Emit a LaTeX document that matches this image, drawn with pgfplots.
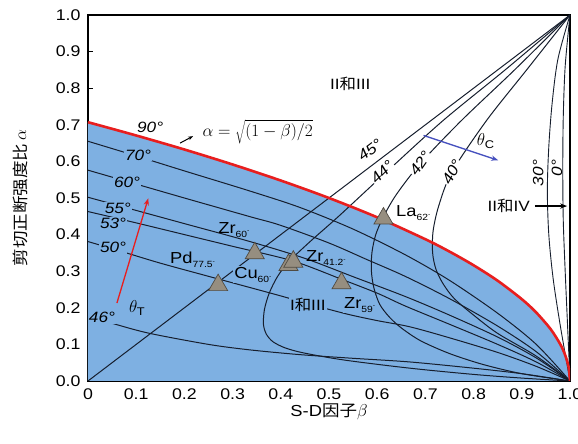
\documentclass[border=0pt]{standalone}
\usepackage{fontspec}
\setmainfont[FakeStretch=1.15]{Liberation Sans}
\newfontfamily\cjk[FakeStretch=1.1]{Noto Sans CJK SC}
\usepackage{pgfplots}
\pgfplotsset{compat=1.18}
\usetikzlibrary{arrows.meta}
\definecolor{bfill}{RGB}{126,176,226}
\definecolor{lc}{RGB}{22,30,45}
\definecolor{rl}{RGB}{232,30,30}
\definecolor{tri}{RGB}{150,142,128}
\definecolor{trid}{RGB}{80,75,66}
\definecolor{barrow}{RGB}{70,80,190}
\newcommand{\mat}[2]{#1\raisebox{-0.45ex}{\fontsize{9}{9}\selectfont #2\raisebox{0.9ex}{\fontsize{6}{6}\selectfont -}}}
\newcommand{\ang}{\fontsize{15}{15}\selectfont\itshape}
\begin{document}
\begin{tikzpicture}
\begin{axis}[name=ax, scale only axis, width=482bp, height=366bp,
  xmin=0, xmax=1, ymin=0, ymax=1,
  xtick={0,0.1,0.2,0.3,0.4,0.5,0.6,0.7,0.8,0.9,1},
  xticklabels={0,0.1,0.2,0.3,0.4,0.5,0.6,0.7,0.8,0.9,1.0},
  ytick={0,0.1,0.2,0.3,0.4,0.5,0.6,0.7,0.8,0.9,1},
  yticklabels={0.0,0.1,0.2,0.3,0.4,0.5,0.6,0.7,0.8,0.9,1.0},
  tick align=inside, xtick pos=bottom, ytick pos=left,
  major tick length=5bp,
  tick style={black, line width=1bp},
  axis line style={line width=1.2bp},
  tick label style={font=\fontsize{15.5}{15.5}\selectfont},
  xticklabel style={yshift=-4bp},
  yticklabel style={xshift=-4bp},
  xlabel={S-D{\cjk 因子}$\beta$},
  ylabel={{\cjk 剪切正断强度比}$\,\alpha$},
  label style={font=\fontsize{16}{16}\selectfont},
  xlabel style={at={(axis description cs:0.5,0)}, yshift=-31bp, anchor=center},
  ylabel style={at={(axis description cs:0,0.5)}, anchor=center, yshift=68bp},
  clip=true,
]
% blue region under the 90 deg curve
\addplot[fill=bfill, draw=none] coordinates {(0,0.7071)(0.1,0.6708)(0.2,0.6325)(0.3,0.5916)(0.4,0.5477)(0.5,0.5)(0.6,0.4472)(0.7,0.3873)(0.75,0.3536)(0.8,0.3162)(0.85,0.2739)(0.9,0.2236)(0.93,0.1871)(0.96,0.1414)(0.98,0.1)(0.99,0.0707)(0.997,0.0387)(1,0)} \closedcycle;
% theta_T curves
\addplot[lc, line width=1bp, smooth] coordinates {(0,0.655)(0.1,0.615)(0.2,0.574)(0.336,0.519)(0.44,0.474)(0.55,0.415)(0.658,0.345)(0.75,0.275)(0.85,0.185)(0.93,0.1)(1,0)};
\addplot[lc, line width=1bp, smooth] coordinates {(0,0.576)(0.1,0.538)(0.2,0.5)(0.336,0.449)(0.398,0.426)(0.5,0.377)(0.58,0.331)(0.658,0.286)(0.75,0.225)(0.85,0.15)(0.93,0.08)(1,0)};
\addplot[lc, line width=1bp, smooth] coordinates {(0,0.502)(0.1,0.466)(0.2,0.43)(0.336,0.381)(0.45,0.335)(0.55,0.285)(0.658,0.231)(0.75,0.18)(0.85,0.12)(0.93,0.063)(1,0)};
\addplot[lc, line width=1bp, smooth] coordinates {(0,0.463)(0.1,0.432)(0.2,0.4)(0.3,0.368)(0.425,0.328)(0.526,0.278)(0.6,0.24)(0.658,0.205)(0.75,0.155)(0.85,0.1)(0.93,0.052)(1,0)};
\addplot[lc, line width=1bp, smooth] coordinates {(0,0.381)(0.077,0.351)(0.15,0.322)(0.25,0.286)(0.393,0.235)(0.46,0.21)(0.537,0.183)(0.6,0.165)(0.668,0.148)(0.75,0.118)(0.85,0.078)(0.93,0.04)(1,0)};
\addplot[lc, line width=1bp, smooth] coordinates {(0,0.175)(0.046,0.159)(0.125,0.131)(0.25,0.1)(0.336,0.085)(0.44,0.072)(0.55,0.062)(0.668,0.052)(0.8,0.035)(0.9,0.02)(1,0)};
% theta_C curves
\addplot[lc, line width=1bp] coordinates {(0,0)(1,1)};
\addplot[lc, line width=1bp, smooth] coordinates {(1,1)(0.87,0.855)(0.737,0.712)(0.62,0.572)(0.52,0.45)(0.46,0.38)(0.416,0.325)(0.393,0.285)(0.376,0.24)(0.366,0.195)(0.364,0.155)(0.37,0.128)(0.384,0.107)(0.41,0.09)(0.45,0.076)(0.533,0.057)(0.668,0.035)(0.8,0.018)(0.9,0.008)(1,0)};
\addplot[lc, line width=1bp, smooth] coordinates {(1,1)(0.885,0.85)(0.775,0.712)(0.69,0.595)(0.64,0.51)(0.613,0.449)(0.597,0.4)(0.589,0.35)(0.588,0.3)(0.593,0.255)(0.605,0.21)(0.625,0.175)(0.65,0.145)(0.69,0.11)(0.75,0.075)(0.82,0.045)(0.9,0.02)(1,0)};
\addplot[lc, line width=1bp, smooth] coordinates {(1,1)(0.91,0.85)(0.827,0.712)(0.755,0.571)(0.728,0.48)(0.716,0.41)(0.715,0.35)(0.722,0.305)(0.737,0.265)(0.76,0.225)(0.8,0.18)(0.85,0.13)(0.93,0.068)(1,0)};
\addplot[lc, line width=0.9bp, smooth] coordinates {(1,1)(0.975,0.88)(0.963,0.76)(0.956,0.64)(0.953,0.52)(0.956,0.4)(0.965,0.28)(0.98,0.15)(1,0)};
\addplot[lc, line width=0.9bp, smooth] coordinates {(1,1)(0.99,0.86)(0.986,0.72)(0.985,0.58)(0.986,0.44)(0.99,0.3)(0.995,0.15)(1,0)};
% 90 deg boundary
\addplot[rl, line width=2.6bp, smooth] coordinates {(0,0.7071)(0.1,0.6708)(0.2,0.6325)(0.3,0.5916)(0.4,0.5477)(0.5,0.5)(0.6,0.4472)(0.7,0.3873)(0.75,0.3536)(0.8,0.3162)(0.85,0.2739)(0.9,0.2236)(0.93,0.1871)(0.96,0.1414)(0.98,0.1)(0.99,0.0707)(0.997,0.0387)(1,0)};
% labels on theta_T curves
\node[font=\ang] at (axis cs:0.129,0.694) {90°};
\node[font=\ang, fill=bfill, inner sep=1bp] at (axis cs:0.104,0.617) {70°};
\node[font=\ang, fill=bfill, inner sep=1bp] at (axis cs:0.081,0.544) {60°};
\node[font=\ang, fill=bfill, inner sep=1bp] at (axis cs:0.062,0.473) {55°};
\node[font=\ang, fill=bfill, inner sep=0.5bp] at (axis cs:0.052,0.432) {53°};
\node[font=\ang, fill=bfill, inner sep=1bp] at (axis cs:0.052,0.364) {50°};
\node[font=\ang, fill=bfill, inner sep=1bp] at (axis cs:0.029,0.173) {46°};
% labels on theta_C curves
\node[font=\ang, fill=white, inner sep=0.5bp, rotate=37] at (axis cs:0.585,0.631) {45°};
\node[font=\ang, fill=white, inner sep=0.5bp, rotate=45] at (axis cs:0.61,0.571) {44°};
\node[font=\ang, fill=white, inner sep=0.5bp, rotate=55] at (axis cs:0.689,0.595) {42°};
\node[font=\ang, fill=white, inner sep=0.5bp, rotate=62] at (axis cs:0.755,0.571) {40°};
\node[font=\ang, rotate=90] at (axis cs:0.934,0.568) {30°};
\node[font=\ang, rotate=90] at (axis cs:0.973,0.582) {0°};
% formula
\draw[-{Stealth[length=5bp]}, line width=1bp] (axis cs:0.191,0.65) -- (axis cs:0.218,0.669);
\node[font=\fontsize{17}{17}\selectfont] at (axis cs:0.352,0.682) {$\alpha=\sqrt{(1-\beta)/2}$};
% arrows
\draw[-{Stealth[length=7bp]}, line width=1.3bp, barrow] (axis cs:0.696,0.671) -- (axis cs:0.851,0.603);
\node[font=\fontsize{16}{16}\selectfont] at (axis cs:0.824,0.655) {$\theta_{\mathrm{C}}$};
\draw[-{Stealth[length=7bp]}, line width=1.3bp, rl] (axis cs:0.06,0.213) -- (axis cs:0.125,0.499);
\node[font=\fontsize{16}{16}\selectfont] at (axis cs:0.101,0.2) {$\theta_{\mathrm{T}}$};
% region labels
\node[font=\fontsize{15}{15}\selectfont] at (axis cs:0.544,0.813) {II{\cjk 和}III};
\node[font=\fontsize{15}{15}\selectfont] at (axis cs:0.873,0.478) {II{\cjk 和}IV};
\draw[-{Stealth[length=7bp]}, line width=1.6bp] (axis cs:0.927,0.478) -- (axis cs:0.994,0.478);
\node[font=\fontsize{15}{15}\selectfont, fill=bfill, inner sep=1bp] at (axis cs:0.456,0.208) {I{\cjk 和}III};
% materials
\addplot[only marks, mark=triangle*, mark size=11bp, mark options={fill=tri, draw=trid, line width=0.7bp}] coordinates {(0.27,0.262)(0.346,0.349)(0.416,0.317)(0.426,0.326)(0.526,0.267)(0.613,0.444)};
\node[font=\fontsize{16}{16}\selectfont, anchor=west, inner sep=0pt] at (axis cs:0.17,0.331) {\mat{Pd}{77.5}};
\node[font=\fontsize{16}{16}\selectfont, anchor=west, inner sep=0pt] at (axis cs:0.27,0.413) {\mat{Zr}{60}};
\node[font=\fontsize{16}{16}\selectfont, anchor=west, inner sep=1bp, fill=bfill] at (axis cs:0.301,0.29) {\mat{Cu}{60}};
\node[font=\fontsize{16}{16}\selectfont, anchor=west, inner sep=0pt] at (axis cs:0.452,0.336) {\mat{Zr}{41.2}};
\node[font=\fontsize{16}{16}\selectfont, anchor=west, inner sep=1bp, fill=bfill] at (axis cs:0.529,0.208) {\mat{Zr}{59}};
\node[font=\fontsize{16}{16}\selectfont, anchor=west, inner sep=0pt] at (axis cs:0.639,0.459) {\mat{La}{62}};
\end{axis}
\pgfresetboundingbox
\path[use as bounding box] ([xshift=-88bp,yshift=-63bp]ax.south west) rectangle ([xshift=8bp,yshift=15bp]ax.north east);
\end{tikzpicture}
\end{document}
